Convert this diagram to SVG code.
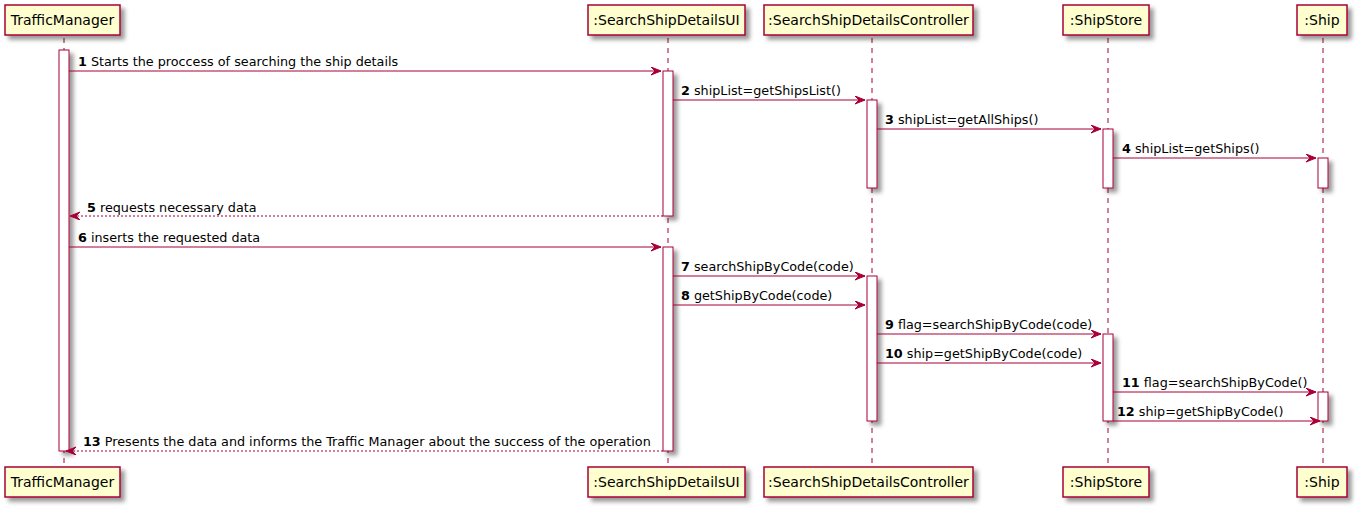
<svg xmlns="http://www.w3.org/2000/svg" width="1359" height="511" viewBox="0 0 1359 511">
<style>
.box{fill:#FEFECE;stroke:#A80036;stroke-width:1.5}
.act{fill:#FFFFFF;stroke:#A80036;stroke-width:1}
.life{stroke:#A80036;stroke-width:1;stroke-dasharray:5,5;fill:none}
.pt{font-family:"DejaVu Sans",sans-serif;font-size:14px;fill:#000000;text-anchor:middle}
.mt{font-family:"DejaVu Sans",sans-serif;font-size:12.75px;fill:#000000}
.num{font-weight:bold}
.msg{stroke:#A80036;stroke-width:1;fill:none}
.ret{stroke:#A80036;stroke-width:1;stroke-dasharray:2,2;fill:none}
</style>
<defs>
<filter id="sh" x="-1" y="-1" width="300%" height="300%">
<feGaussianBlur in="SourceAlpha" stdDeviation="2" result="b"/>
<feColorMatrix in="b" type="matrix" values="0 0 0 0 0  0 0 0 0 0  0 0 0 0 0  0 0 0 0.4 0" result="c"/>
<feOffset in="c" dx="4" dy="4" result="o"/>
<feBlend in="SourceGraphic" in2="o" mode="normal"/>
</filter>
<marker id="ah" markerUnits="userSpaceOnUse" markerWidth="12" markerHeight="10" refX="10" refY="4" orient="auto" viewBox="0 0 12 10">
<path d="M0,0 L10,4 L0,8 L4,4 Z" fill="#A80036" stroke="#A80036" stroke-width="1"/>
</marker>
</defs>
<rect width="1359" height="511" fill="#FFFFFF"/>

<g id="lifelines">
<line class="life" x1="64" y1="38" x2="64" y2="467"/>
<line class="life" x1="668" y1="38" x2="668" y2="467"/>
<line class="life" x1="872" y1="38" x2="872" y2="467"/>
<line class="life" x1="1108" y1="38" x2="1108" y2="467"/>
<line class="life" x1="1323" y1="38" x2="1323" y2="467"/>
</g>

<g id="TrafficManager">
<rect class="box" filter="url(#sh)" x="5" y="5" width="115" height="30"/>
<text class="pt" x="62.5" y="25">TrafficManager</text>
<rect class="box" filter="url(#sh)" x="5" y="467" width="115" height="30"/>
<text class="pt" x="62.5" y="487">TrafficManager</text>
<rect class="act" filter="url(#sh)" x="59" y="50" width="10" height="401"/>
</g>

<g id="SearchShipDetailsUI">
<rect class="box" filter="url(#sh)" x="588" y="5" width="157" height="30"/>
<text class="pt" x="666.5" y="25">:SearchShipDetailsUI</text>
<rect class="box" filter="url(#sh)" x="588" y="467" width="157" height="30"/>
<text class="pt" x="666.5" y="487">:SearchShipDetailsUI</text>
<rect class="act" filter="url(#sh)" x="663" y="71" width="10" height="145"/>
<rect class="act" filter="url(#sh)" x="663" y="247" width="10" height="204"/>
</g>

<g id="SearchShipDetailsController">
<rect class="box" filter="url(#sh)" x="764" y="5" width="209" height="30"/>
<text class="pt" x="868.5" y="25">:SearchShipDetailsController</text>
<rect class="box" filter="url(#sh)" x="764" y="467" width="209" height="30"/>
<text class="pt" x="868.5" y="487">:SearchShipDetailsController</text>
<rect class="act" filter="url(#sh)" x="867" y="100" width="10" height="88"/>
<rect class="act" filter="url(#sh)" x="867" y="276" width="10" height="145"/>
</g>

<g id="ShipStore">
<rect class="box" filter="url(#sh)" x="1063" y="5" width="86" height="30"/>
<text class="pt" x="1106" y="25">:ShipStore</text>
<rect class="box" filter="url(#sh)" x="1063" y="467" width="86" height="30"/>
<text class="pt" x="1106" y="487">:ShipStore</text>
<rect class="act" filter="url(#sh)" x="1103" y="129" width="10" height="59"/>
<rect class="act" filter="url(#sh)" x="1103" y="334" width="10" height="87"/>
</g>

<g id="Ship">
<rect class="box" filter="url(#sh)" x="1297" y="5" width="50" height="30"/>
<text class="pt" x="1322" y="25">:Ship</text>
<rect class="box" filter="url(#sh)" x="1297" y="467" width="50" height="30"/>
<text class="pt" x="1322" y="487">:Ship</text>
<rect class="act" filter="url(#sh)" x="1318" y="158" width="10" height="30"/>
<rect class="act" filter="url(#sh)" x="1318" y="392" width="10" height="29"/>
</g>

<g id="connectors">
<line class="msg" marker-end="url(#ah)" x1="69" y1="71" x2="661" y2="71"/>
<text class="mt" x="78" y="66"><tspan class="num">1</tspan> Starts the proccess of searching the ship details</text>

<line class="msg" marker-end="url(#ah)" x1="673" y1="100" x2="865" y2="100"/>
<text class="mt" x="681" y="95"><tspan class="num">2</tspan> shipList=getShipsList()</text>

<line class="msg" marker-end="url(#ah)" x1="877" y1="129" x2="1101" y2="129"/>
<text class="mt" x="885" y="124"><tspan class="num">3</tspan> shipList=getAllShips()</text>

<line class="msg" marker-end="url(#ah)" x1="1113" y1="158" x2="1316" y2="158"/>
<text class="mt" x="1122" y="153"><tspan class="num">4</tspan> shipList=getShips()</text>

<line class="ret" marker-end="url(#ah)" x1="663" y1="216" x2="70" y2="216"/>
<text class="mt" x="87" y="212"><tspan class="num">5</tspan> requests necessary data</text>

<line class="msg" marker-end="url(#ah)" x1="69" y1="247" x2="661" y2="247"/>
<text class="mt" x="78" y="242"><tspan class="num">6</tspan> inserts the requested data</text>

<line class="msg" marker-end="url(#ah)" x1="673" y1="276" x2="865" y2="276"/>
<text class="mt" x="681" y="271"><tspan class="num">7</tspan> searchShipByCode(code)</text>

<line class="msg" marker-end="url(#ah)" x1="673" y1="305" x2="865" y2="305"/>
<text class="mt" x="681" y="300"><tspan class="num">8</tspan> getShipByCode(code)</text>

<line class="msg" marker-end="url(#ah)" x1="877" y1="334" x2="1101" y2="334"/>
<text class="mt" x="885" y="329"><tspan class="num">9</tspan> flag=searchShipByCode(code)</text>

<line class="msg" marker-end="url(#ah)" x1="877" y1="363" x2="1101" y2="363"/>
<text class="mt" x="885" y="358"><tspan class="num">10</tspan> ship=getShipByCode(code)</text>

<line class="msg" marker-end="url(#ah)" x1="1113" y1="392" x2="1316" y2="392"/>
<text class="mt" x="1122" y="387"><tspan class="num">11</tspan> flag=searchShipByCode()</text>

<line class="msg" marker-end="url(#ah)" x1="1113" y1="421" x2="1320" y2="421"/>
<text class="mt" x="1117" y="416"><tspan class="num">12</tspan> ship=getShipByCode()</text>

<line class="ret" marker-end="url(#ah)" x1="663" y1="451" x2="66" y2="451"/>
<text class="mt" x="83" y="446"><tspan class="num">13</tspan> Presents the data and informs the Traffic Manager about the success of the operation</text>
</g>
</svg>
